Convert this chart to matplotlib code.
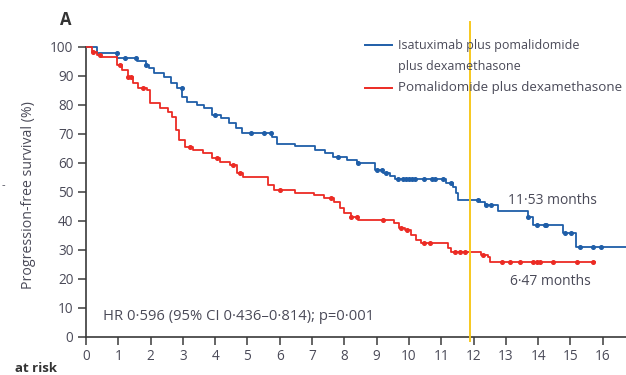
import numpy as np
import matplotlib
matplotlib.use("Agg")
import matplotlib.pyplot as plt
from matplotlib.lines import Line2D

# Kaplan-Meier estimates: time in months, progression-free survival in %
isa_times = [0, 0.35, 0.97, 1.58, 1.85, 1.95, 2.1, 2.42, 2.62, 2.83, 2.98, 3.14, 3.45, 3.65,
             3.91, 4.17, 4.43, 4.63, 4.84, 5.77, 5.92, 6.47, 7.09, 7.4, 7.66, 8.07, 8.38, 8.95,
             9.2, 9.4, 9.57, 11.15, 11.35, 11.45, 11.53, 12.2, 12.35, 12.77, 13.68, 13.83,
             14.77, 15.18]
isa_surv = [100, 97.8, 96.2, 95.0, 93.8, 92.6, 90.9, 89.8, 87.5, 85.8, 82.9, 81.1, 80.0, 78.9,
            76.6, 75.4, 73.7, 72.0, 70.4, 69.0, 66.6, 65.9, 64.5, 63.3, 62.2, 61.0, 59.9, 57.6,
            56.4, 55.5, 54.6, 53.0, 51.8, 49.5, 47.4, 46.6, 45.6, 43.6, 41.5, 38.6, 35.8, 31.0]
isa_last_followup = 16.8
isa_censored = [0.95, 1.2, 1.55, 1.86, 2.97, 3.98, 5.1, 5.5, 5.72, 7.81, 8.43, 9.0, 9.15, 9.3,
                9.67, 9.8, 9.9, 10.0, 10.1, 10.2, 10.45, 10.7, 10.8, 11.06, 11.3, 12.15, 12.4,
                12.55, 13.7, 13.95, 14.2, 14.25, 14.83, 15.03, 15.3, 15.7, 15.96]

pd_times = [0, 0.2, 0.35, 0.45, 0.95, 1.1, 1.3, 1.45, 1.62, 1.88, 1.97, 2.28, 2.55, 2.67, 2.78,
            2.87, 3.05, 3.3, 3.62, 3.9, 4.15, 4.45, 4.67, 4.85, 5.65, 5.82, 6.47, 7.07, 7.38,
            7.68, 7.85, 8.0, 8.2, 8.42, 9.55, 9.7, 9.87, 10.07, 10.22, 10.38, 11.2, 11.3,
            12.22, 12.45, 12.52]
pd_surv = [100, 98.4, 97.2, 96.7, 93.8, 92.0, 89.8, 87.5, 85.8, 85.2, 80.6, 78.9, 77.7, 76.0,
           71.4, 67.9, 65.6, 64.5, 63.3, 61.6, 60.4, 59.3, 56.4, 55.3, 52.4, 50.6, 49.8, 49.0,
           47.8, 46.6, 44.4, 42.9, 41.5, 40.3, 39.2, 37.5, 36.9, 35.2, 33.4, 32.3, 30.6, 29.4,
           28.3, 27.5, 26.0]
pd_last_followup = 15.75
pd_censored = [0.22, 0.43, 1.05, 1.3, 1.4, 1.77, 3.22, 4.05, 4.55, 4.77, 6.0, 7.6, 8.2, 8.4,
               9.2, 9.76, 9.95, 10.45, 10.65, 11.43, 11.58, 11.74, 12.3, 12.87, 13.12, 13.44,
               13.85, 13.96, 14.06, 14.47, 15.19, 15.71]

legend_lines = [["Isatuximab plus pomalidomide", "plus dexamethasone"],
                ["Pomalidomide plus dexamethasone"]]
median_labels = ["11·53 months", "6·47 months"]
hr_text = "HR 0·596 (95% CI 0·436–0·814); p=0·001"
x_ticks = list(range(0, 17))
y_ticks = list(range(0, 101, 10))
reference_month = 11.9

BLUE = "#1f5ea8"
RED = "#ec2b24"
TEXT = "#4a4a58"
AXIS = "#3a3a3a"

plt.rcParams["font.family"] = ["Open Sans", "DejaVu Sans"]

W, H = 626, 375
fig = plt.figure(figsize=(W / 100, H / 100), dpi=100)
ax_w = W - 86 + 0.02 * W
ax = fig.add_axes([86 / W, (H - 337) / H, ax_w / W, (337 - 22) / H])
ax.set_xlim(0, 16.72 * ax_w / (W - 86))
ax.set_ylim(0, 108.6)


def km_value(times, surv, t):
    idx = np.searchsorted(times, t, side="right") - 1
    return np.asarray(surv)[idx]


for times, surv, last, cens, color in [
    (isa_times, isa_surv, isa_last_followup, isa_censored, BLUE),
    (pd_times, pd_surv, pd_last_followup, pd_censored, RED),
]:
    t = np.append(times, last)
    s = np.append(surv, surv[-1])
    ax.step(t, s, where="post", color=color, lw=1.3, zorder=3)
    ax.plot(cens, km_value(times, surv, cens), ls="none", marker="o", ms=2.6,
            color=color, mec=color, zorder=4)

ax.axvline(reference_month, ymin=-0.012, ymax=1.0, color="#f7c81e", lw=1.4,
           clip_on=False, zorder=5)

for sp in ["top", "right"]:
    ax.spines[sp].set_visible(False)
ax.spines["left"].set_bounds(0, 100)
for sp in ["left", "bottom"]:
    ax.spines[sp].set_color(AXIS)
    ax.spines[sp].set_linewidth(1.2)
ax.set_xticks(x_ticks)
ax.set_yticks(y_ticks)
ax.tick_params(axis="both", direction="out", length=6, width=1.1, color=AXIS,
               labelcolor=TEXT, labelsize=9.8, pad=3)
ax.set_ylabel("Progression-free survival (%)", color=TEXT, fontsize=10.2)
ax.yaxis.set_label_coords(-0.09, 0.451)

ax.text(0.53, 7.2, hr_text, color=TEXT, fontsize=10.6, va="center", ha="left")
ax.text(14.43, 47.2, median_labels[0], color=TEXT, fontsize=10.0, va="center", ha="center")
ax.text(14.37, 19.0, median_labels[1], color=TEXT, fontsize=10.0, va="center", ha="center")

# Legend drawn in figure pixels
legend_rows = [(45, 66.5), (88,)]
legend_sizes = [9.0, 9.6]
for color, lines, rows, size in zip([BLUE, RED], legend_lines, legend_rows, legend_sizes):
    fig.add_artist(Line2D([365 / W, 392 / W], [1 - rows[0] / H] * 2, color=color, lw=1.4))
    for line, y in zip(lines, rows):
        fig.text(398 / W, 1 - y / H, line, color=TEXT, fontsize=size, va="center", ha="left")

fig.text(66 / W, 1 - 20 / H, "A", fontsize=12, fontweight="bold", color="#333333",
         ha="center", va="center")
fig.text(3 / W, 1 - 186 / H, "-", fontsize=8, color=TEXT, ha="center", va="center")
fig.text(15 / W, 1 - 372 / H, "at risk", fontsize=9.5, fontweight="bold", color="#333333",
         ha="left", va="baseline")

fig.savefig("out.png", dpi=100)
